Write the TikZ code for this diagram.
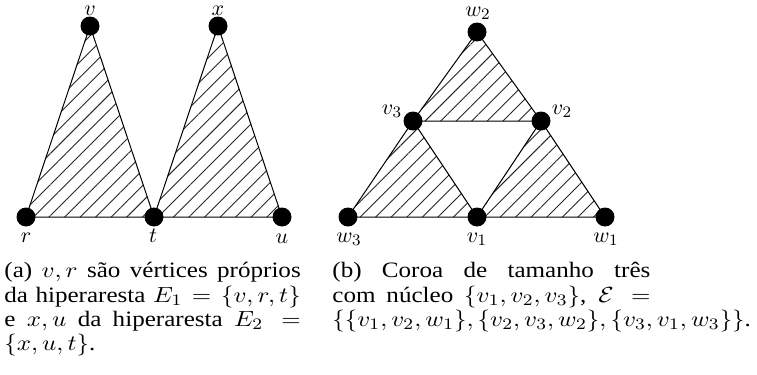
\documentclass[tikz,border=0pt]{standalone}
\usepackage[no-math]{fontspec}
\usepackage{graphicx}
\setmainfont{Liberation Serif}
\usetikzlibrary{patterns.meta,backgrounds}
\newcommand{\capfont}{\fontsize{11pt}{12.15pt}\selectfont}
\begin{document}
\begin{tikzpicture}[x=0.5pt,y=-0.5pt,
  vtx/.style={circle,fill=black,inner sep=0pt,minimum size=9.5pt},
  lbl/.style={inner sep=0pt,font=\fontsize{11pt}{13pt}\selectfont},
  hedge/.style={draw=black,line width=0.5pt},
  hatch/.style={pattern={Lines[angle=45,distance=5.5pt,line width=0.45pt]},pattern color=black!85},
  capbox/.style={inner sep=0pt,anchor=base west}]
\useasboundingbox (0,0) rectangle (757,375);
% left figure
\node[vtx] (v) at (90,26) {};
\node[vtx] (x) at (218,26) {};
\node[vtx] (r) at (26,217) {};
\node[vtx] (t) at (154,217) {};
\node[vtx] (u) at (282,217) {};
\node[lbl] (lv) at (90,10.5) {$v$};
\node[lbl] (lx) at (218,10.5) {$x$};
\node[lbl] (lr) at (26,238) {$r$};
\node[lbl] (lt) at (153,236) {$t$};
\node[lbl] (lu) at (282,239) {$u$};
% right figure
\node[vtx] (w2) at (477,32) {};
\node[vtx] (v3) at (413,121) {};
\node[vtx] (v2) at (541,121) {};
\node[vtx] (w3) at (348,217) {};
\node[vtx] (v1) at (477,217) {};
\node[vtx] (w1) at (605,217) {};
\node[lbl] (lw2) at (478,13) {$w_2$};
\node[lbl] (lv3) at (392,111) {$v_3$};
\node[lbl] (lv2) at (562,111) {$v_2$};
\node[lbl] (lw3) at (349,239) {$w_3$};
\node[lbl] (lv1) at (477,239) {$v_1$};
\node[lbl] (lw1) at (606,239) {$w_1$};
\begin{scope}[on background layer]
  \fill[hatch] (v.center) -- (r.center) -- (t.center) -- cycle;
  \fill[hatch] (x.center) -- (t.center) -- (u.center) -- cycle;
  \fill[hatch] (w2.center) -- (v3.center) -- (v2.center) -- cycle;
  \fill[hatch] (v3.center) -- (w3.center) -- (v1.center) -- cycle;
  \fill[hatch] (v2.center) -- (v1.center) -- (w1.center) -- cycle;
  \draw[hedge] (v.center) -- (r.center) -- (t.center) -- cycle;
  \draw[hedge] (x.center) -- (t.center) -- (u.center) -- cycle;
  \draw[hedge] (w2.center) -- (v3.center) -- (v2.center) -- cycle;
  \draw[hedge] (v3.center) -- (w3.center) -- (v1.center) -- cycle;
  \draw[hedge] (v2.center) -- (v1.center) -- (w1.center) -- cycle;
\end{scope}
% captions
\node[capbox] (capa) at (4,278) {\scalebox{1.14}[1]{\parbox[t]{130pt}{\capfont (a) $v,r$ são vértices próprios\linebreak da hiperaresta $E_1=\{v,r,t\}$\linebreak e $x,u$ da hiperaresta $E_2=$\linebreak $\{x,u,t\}$.}}};
\node[capbox] (capb) at (332,278) {\scalebox{1.14}[1]{\parbox[t]{139.5pt}{\capfont (b) Coroa de tamanho três\linebreak com núcleo $\{v_1,v_2,v_3\}$, $\mathcal{E}=$\linebreak $\{\{v_1,v_2,w_1\},\{v_2,v_3,w_2\},\{v_3,v_1,w_3\}\}$.}}};
\end{tikzpicture}
\end{document}
